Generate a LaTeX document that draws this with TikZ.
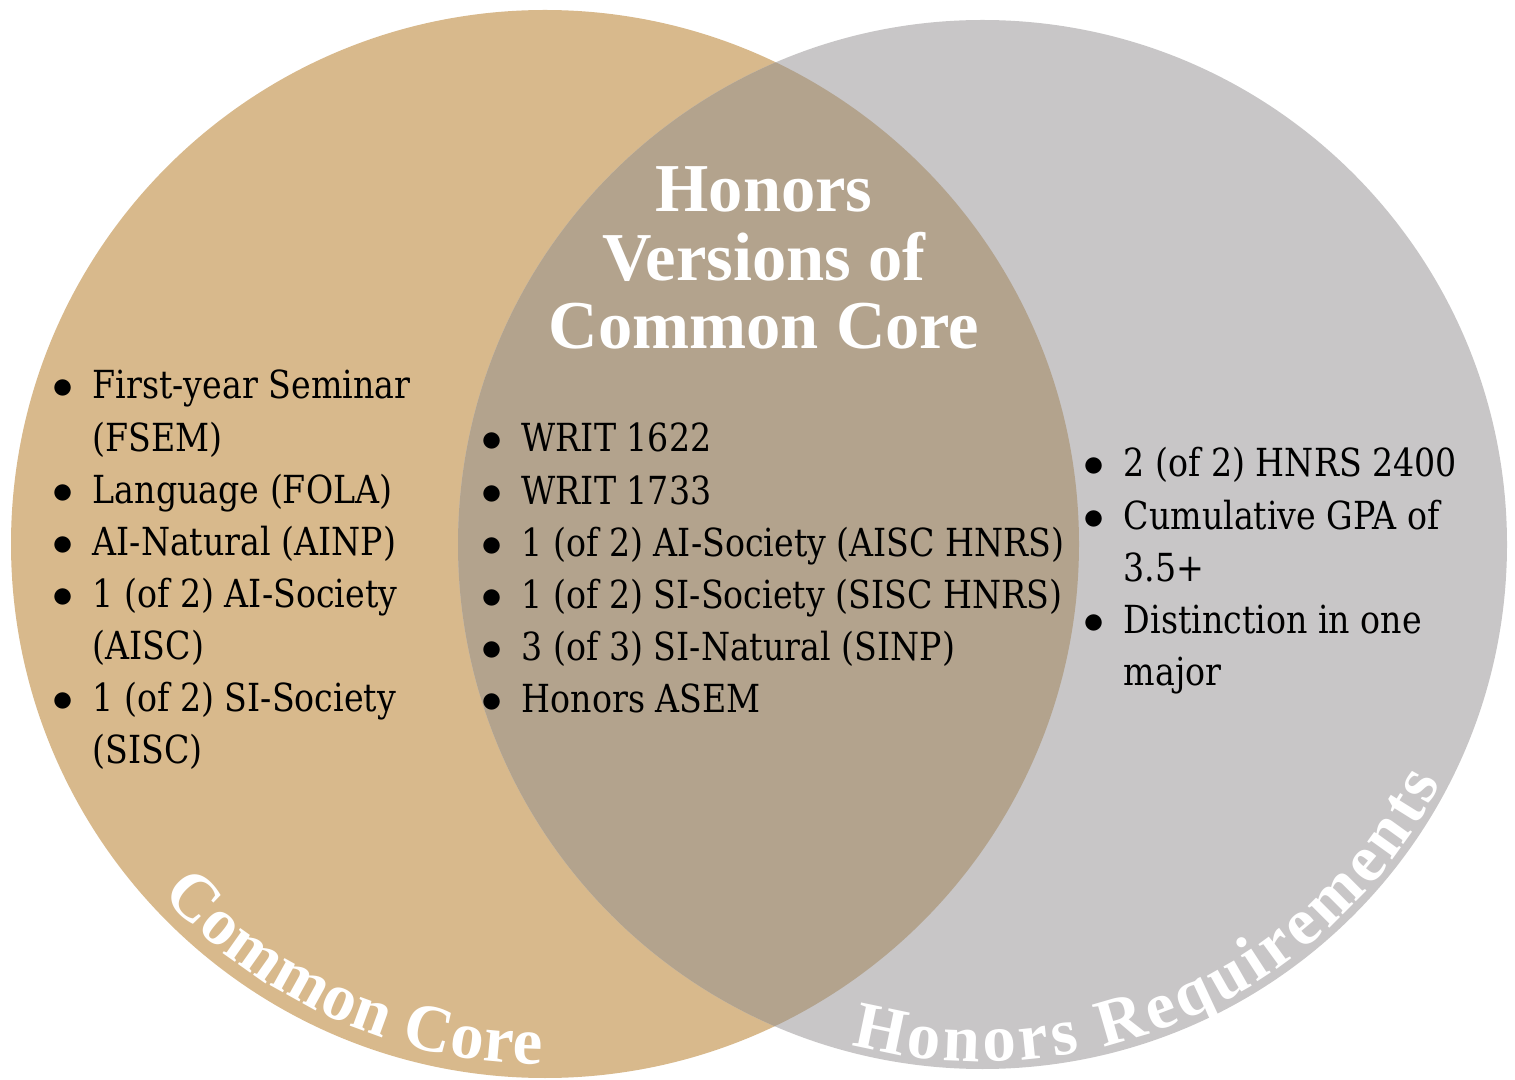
\documentclass[tikz,border=0pt]{standalone}
\usepackage{fontspec}
\setmainfont{DejaVu Serif}[FakeStretch=0.86]
\newfontfamily\headfont{Liberation Serif}
\usetikzlibrary{decorations.text, calc}

\definecolor{coretan}{HTML}{D8B98C}
\definecolor{honorgrey}{HTML}{C8C6C7}
\definecolor{bothmix}{HTML}{B3A38D}

\newcommand{\itm}{\makebox[0.6cm]{\fontsize{13}{13}\selectfont$\bullet$}}

\begin{document}
\begin{tikzpicture}[
    reqlist/.style={anchor=base west, inner sep=0pt, align=left,
        font=\fontsize{11}{14.8}\selectfont},
    headtitle/.style={anchor=base, inner sep=0pt, align=center, text=white,
        font=\headfont\bfseries\fontsize{19.5}{19.5}\selectfont},
    arclabel/.style={decorate, decoration={text along path, text={#1},
        text color=white, text align={fit to path}}}
]
    \useasboundingbox (0,0) rectangle (15.15,10.79);

    % circle centres
    \coordinate (cc) at (5.45,5.35);
    \coordinate (hr) at (9.825,5.345);

    % the two sets and their overlap
    \fill[coretan] (cc) circle (5.34);
    \fill[honorgrey] (hr) circle (5.245);
    \begin{scope}
        \clip (cc) circle (5.34);
        \fill[bothmix] (hr) circle (5.245);
    \end{scope}

    % heading of the overlap
    \node[headtitle] (both) at (7.64,7.30) {Honors\\Versions of\\Common Core};

    % lists
    \node[reqlist] (corelist) at (0.32,6.80) {\begin{tabular}[t]{@{}l@{}l@{}}
        \itm & First-year Seminar\\
             & (FSEM)\\
        \itm & Language (FOLA)\\
        \itm & AI-Natural (AINP)\\
        \itm & 1 (of 2) AI-Society\\
             & (AISC)\\
        \itm & 1 (of 2) SI-Society\\
             & (SISC)
    \end{tabular}};
    \node[reqlist] (bothlist) at (4.61,6.27) {\begin{tabular}[t]{@{}l@{}l@{}}
        \itm & WRIT 1622\\
        \itm & WRIT 1733\\
        \itm & 1 (of 2) AI-Society (AISC HNRS)\\
        \itm & 1 (of 2) SI-Society (SISC HNRS)\\
        \itm & 3 (of 3) SI-Natural (SINP)\\
        \itm & Honors ASEM
    \end{tabular}};
    \node[reqlist] (honorlist) at (10.63,6.02) {\begin{tabular}[t]{@{}l@{}l@{}}
        \itm & 2 (of 2) HNRS 2400\\
        \itm & Cumulative GPA of\\
             & 3.5+\\
        \itm & Distinction in one\\
             & major
    \end{tabular}};

    % curved set names
    \path[arclabel={|\headfont\bfseries\fontsize{19}{19}\selectfont|Common Core}]
        ($(cc)+(222.5:5.2)$) arc[start angle=222.5, end angle=269.7, radius=5.2];
    \path[arclabel={|\headfont\bfseries\fontsize{19}{19}\selectfont|Honors Requirements}]
        ($(hr)+(255.3:5.17)$) arc[start angle=255.3, end angle=332.5, radius=5.17];
\end{tikzpicture}
\end{document}
